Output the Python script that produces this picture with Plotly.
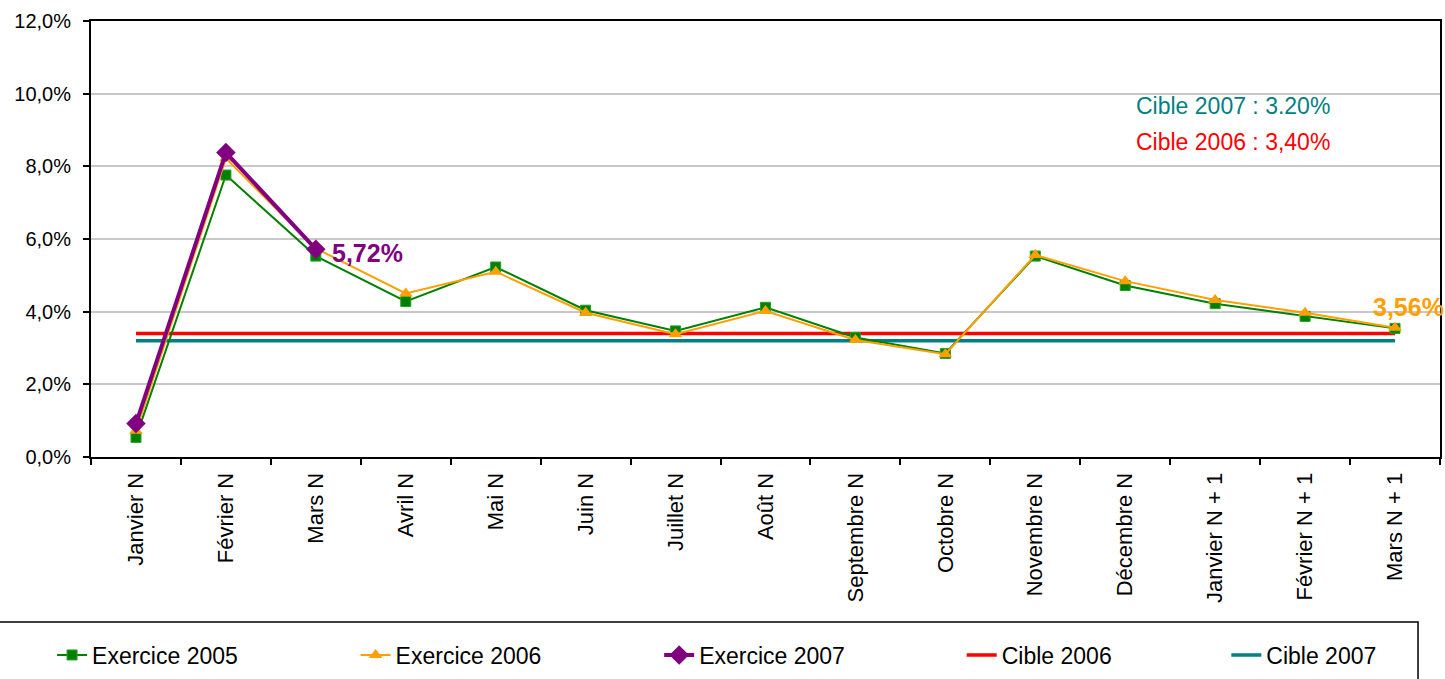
import plotly.graph_objects as go

# Monthly ratio series (in %)
categories = ["Janvier N", "Février N", "Mars N", "Avril N", "Mai N", "Juin N",
              "Juillet N", "Août N", "Septembre N", "Octobre N", "Novembre N",
              "Décembre N", "Janvier N + 1", "Février N + 1", "Mars N + 1"]

exercice_2005 = [0.54, 7.76, 5.53, 4.28, 5.23, 4.04, 3.47, 4.12, 3.29, 2.85,
                 5.53, 4.72, 4.22, 3.87, 3.54]
exercice_2006 = [0.72, 8.22, 5.74, 4.50, 5.10, 3.97, 3.38, 4.02, 3.22, 2.83,
                 5.56, 4.84, 4.32, 3.97, 3.56]
exercice_2007 = [0.92, 8.38, 5.72] + [None] * 12

cible_2006 = [3.40] * len(categories)
cible_2007 = [3.20] * len(categories)

y_ticks = [0, 2, 4, 6, 8, 10, 12]
y_tick_text = [f"{v:.1f}%".replace(".", ",") for v in y_ticks]

FONT = "Liberation Sans, Arial, sans-serif"
W, H = 1445, 679
ML, MR, MT, MB = 91, 3, 21, 222
PW, PH = W - ML - MR, H - MT - MB


def px_x(p):
    return (p - ML) / PW


def px_y(p):
    return (H - MB - p) / PH


fig = go.Figure()

# Target lines first so the yearly series sit on top
fig.add_trace(go.Scatter(
    x=categories, y=cible_2007, name="Cible 2007", mode="lines",
    line=dict(color="#008080", width=3.5), legend="legend5"))
fig.add_trace(go.Scatter(
    x=categories, y=cible_2006, name="Cible 2006", mode="lines",
    line=dict(color="#FF0000", width=3.5), legend="legend4"))

fig.add_trace(go.Scatter(
    x=categories, y=exercice_2005, name="Exercice 2005", mode="lines+markers",
    line=dict(color="#008000", width=2),
    marker=dict(symbol="square", size=10, color="#008000",
                line=dict(color="#22a022", width=1)),
    legend="legend"))
fig.add_trace(go.Scatter(
    x=categories, y=exercice_2006, name="Exercice 2006", mode="lines+markers",
    line=dict(color="#FFA000", width=2),
    marker=dict(symbol="triangle-up", size=12, color="#FFA000"),
    legend="legend2"))
fig.add_trace(go.Scatter(
    x=categories, y=exercice_2007, name="Exercice 2007", mode="lines+markers",
    line=dict(color="#800080", width=4),
    marker=dict(symbol="diamond", size=15, color="#800080"),
    legend="legend3"))

# Value labels
fig.add_annotation(x=categories[2], y=exercice_2007[2], text="<b>5,72%</b>",
                   showarrow=False, xanchor="left", yanchor="middle",
                   xshift=14, yshift=-4,
                   font=dict(family=FONT, size=25, color="#800080"))
fig.add_annotation(x=categories[14], y=exercice_2006[14], text="<b>3,56%</b>",
                   showarrow=False, xanchor="center", yanchor="middle",
                   xshift=13, yshift=21,
                   font=dict(family=FONT, size=25, color="#FFA000"))

# Target captions
fig.add_annotation(xref="paper", yref="paper", x=px_x(1136), y=px_y(106),
                   text="Cible 2007 : 3.20%", showarrow=False,
                   xanchor="left", yanchor="middle",
                   font=dict(family=FONT, size=23, color="#008080"))
fig.add_annotation(xref="paper", yref="paper", x=px_x(1136), y=px_y(142),
                   text="Cible 2006 : 3,40%", showarrow=False,
                   xanchor="left", yanchor="middle",
                   font=dict(family=FONT, size=23, color="#FF0000"))

# Legend frame
fig.add_shape(type="rect", xref="paper", yref="paper",
              x0=px_x(-2), x1=px_x(1420), y0=px_y(622), y1=px_y(690),
              line=dict(color="black", width=1.5), fillcolor="rgba(0,0,0,0)")

legend_text_x = [94, 398, 702, 1005, 1270]
legend_names = ["legend", "legend2", "legend3", "legend4", "legend5"]
legend_layout = {}
for name, tx in zip(legend_names, legend_text_x):
    legend_layout[name] = dict(
        x=px_x(tx - 42), y=px_y(655), xanchor="left", yanchor="middle",
        orientation="h", bgcolor="rgba(0,0,0,0)", borderwidth=0,
        font=dict(family=FONT, size=23, color="black"),
        itemwidth=30)

fig.update_layout(
    width=W, height=H,
    margin=dict(l=ML, r=MR, t=MT, b=MB, pad=0),
    paper_bgcolor="white", plot_bgcolor="white",
    showlegend=True,
    font=dict(family=FONT, size=20, color="black"),
    xaxis=dict(
        type="category", range=[-0.5, 14.5], tickangle=-90,
        showline=True, linecolor="black", linewidth=2, mirror=True,
        ticks="outside", ticklen=6, tickwidth=1.5, tickcolor="black",
        tickson="boundaries", showgrid=False, zeroline=False,
        ticklabelstandoff=5,
        tickfont=dict(family=FONT, size=22, color="black")),
    yaxis=dict(
        range=[0, 12], tickmode="array", tickvals=y_ticks, ticktext=y_tick_text,
        showline=True, linecolor="black", linewidth=2, mirror=True,
        ticks="outside", ticklen=6, tickwidth=1.5, tickcolor="black",
        showgrid=True, gridcolor="#c8c8c8", gridwidth=2, zeroline=False,
        ticklabelstandoff=8,
        tickfont=dict(family=FONT, size=20, color="black")),
    **legend_layout,
)

fig.write_html("out.html")
